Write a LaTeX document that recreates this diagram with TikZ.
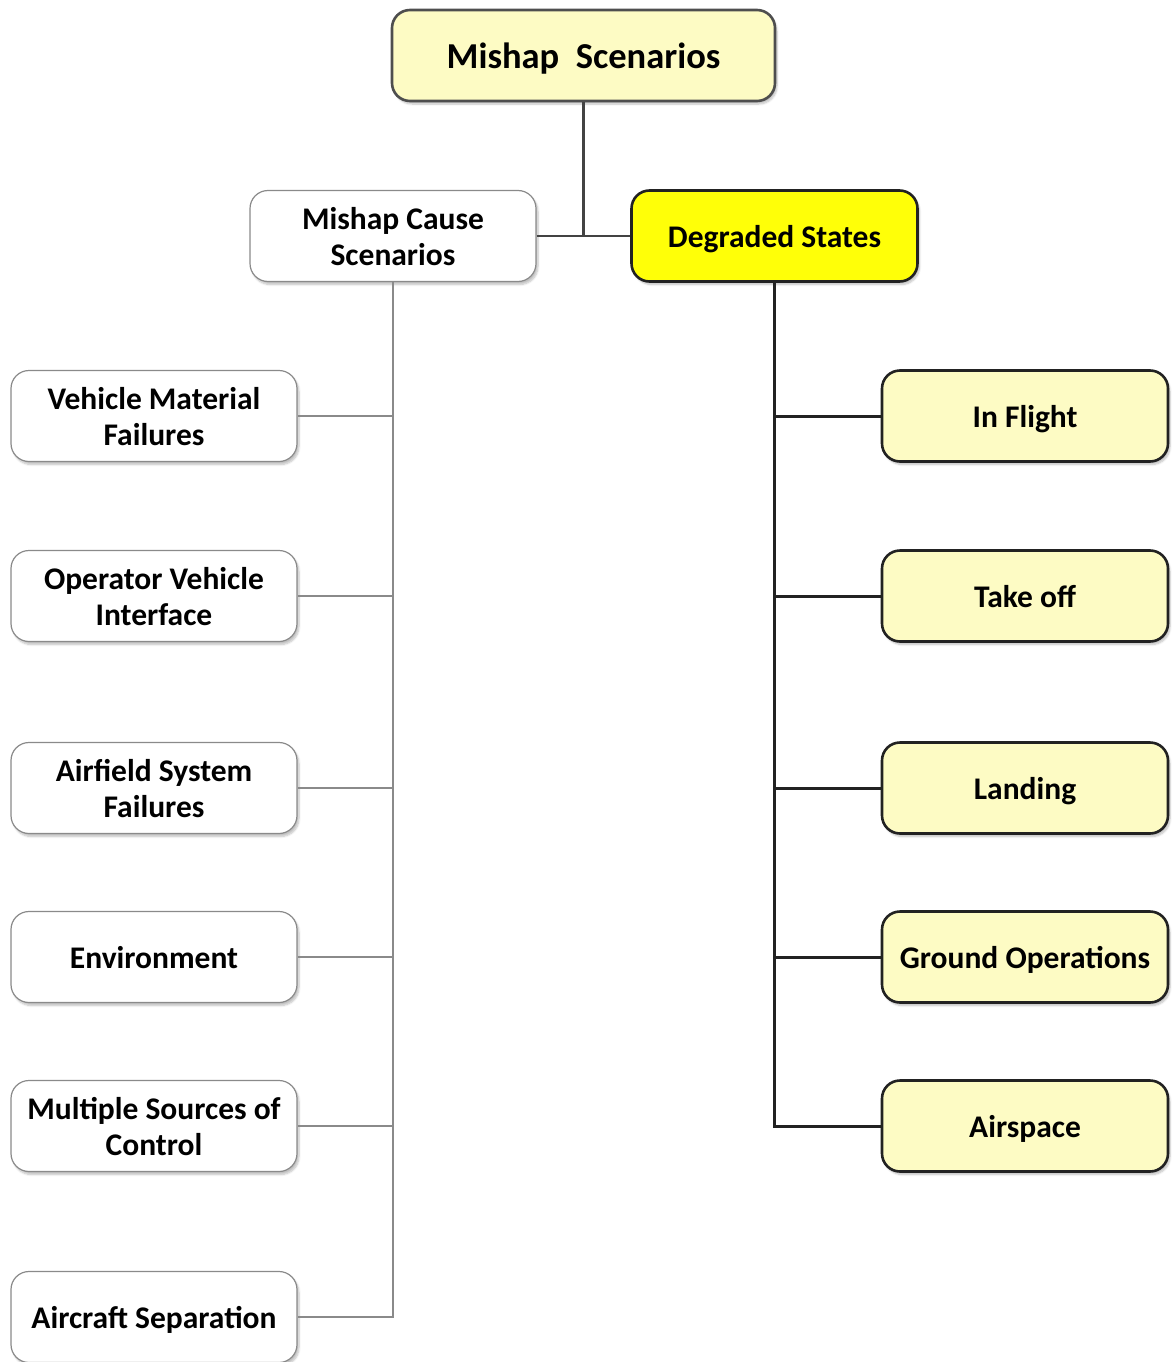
\documentclass[tikz,border=0pt]{standalone}
\usepackage{fontspec}
\setmainfont{Carlito}
\usetikzlibrary{shadows.blur}
\definecolor{paleyellow}{HTML}{FDFBC4}
\definecolor{brightyellow}{HTML}{FFFF08}
\definecolor{edgedark}{HTML}{222222}
\definecolor{edgegray}{HTML}{8A8A8A}
\begin{document}
\begin{tikzpicture}[x=1pt,y=-1pt,
  box/.style={rounded corners=18pt, minimum width=286pt, minimum height=91pt,
    align=center, font=\bfseries\fontsize{31.5}{36}\selectfont, inner sep=0pt,
    text depth=0pt,
    blur shadow={shadow xshift=2pt, shadow yshift=-3pt, shadow opacity=25, shadow blur steps=6}},
  causebox/.style={box, draw=edgegray, line width=1.2pt, fill=white},
  statebox/.style={box, draw=edgedark, line width=2.6pt, fill=paleyellow},
  thinlink/.style={draw=edgegray, line width=1.6pt},
  thicklink/.style={draw=edgedark, line width=3pt}]
\useasboundingbox (0,0) rectangle (1173,1362);

% root and the two main branches
\node[box, draw=edgedark!80, line width=2.6pt, fill=paleyellow, minimum width=383pt,
  font=\bfseries\fontsize{36.5}{40}\selectfont] (root) at (583.5,55.5) {Mishap\ \ Scenarios};
\node[causebox] (cause) at (393,236) {Mishap Cause\\Scenarios};
\node[statebox, fill=brightyellow] (degr) at (774.5,236) {Degraded States};
\coordinate (hub) at (583.5,236);
\draw[thicklink, draw=edgedark!85] (root.south) -- (hub);
\draw[thicklink, draw=edgedark!85, line width=2.6pt] (cause.east) -- (degr.west);

% cause scenarios (left column)
\node[causebox] (c1) at (154,416) {Vehicle Material\\Failures};
\node[causebox] (c2) at (154,596) {Operator Vehicle\\Interface};
\node[causebox] (c3) at (154,788) {Airfield System\\Failures};
\node[causebox] (c4) at (154,957) {Environment};
\node[causebox] (c5) at (154,1126) {Multiple Sources of\\Control};
\node[causebox] (c6) at (154,1317) {Aircraft Separation};

\coordinate (cbus) at (cause.south |- c6.east);
\draw[thinlink] (cause.south) -- (cbus) -- (c6.east);
\foreach \n in {c1,c2,c3,c4,c5}
  \draw[thinlink] (\n.east) -- (cause.south |- \n.east);

% degraded states (right column)
\node[statebox] (s1) at (1025,416) {In Flight};
\node[statebox] (s2) at (1025,596) {Take off};
\node[statebox] (s3) at (1025,788) {Landing};
\node[statebox] (s4) at (1025,957) {Ground Operations};
\node[statebox] (s5) at (1025,1126) {Airspace};

\coordinate (sbus) at (degr.south |- s5.west);
\draw[thicklink] (degr.south) -- (sbus) -- (s5.west);
\foreach \n in {s1,s2,s3,s4}
  \draw[thicklink] (\n.west) -- (degr.south |- \n.west);
\end{tikzpicture}
\end{document}
